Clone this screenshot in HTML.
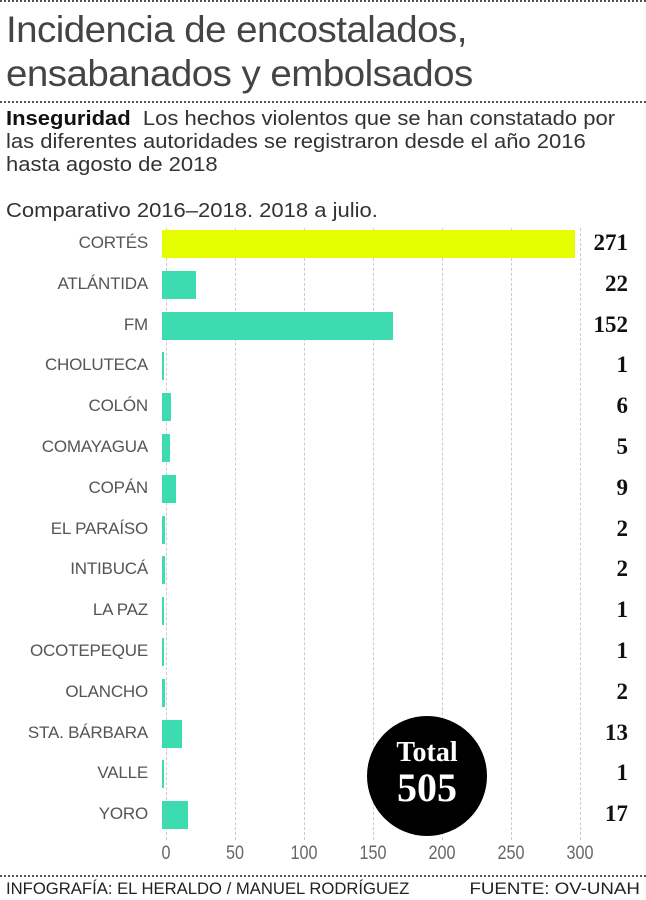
<!DOCTYPE html>
<html><head><meta charset="utf-8"><style>
body{margin:0;width:646px;height:900px;background:#fff;font-family:"Liberation Sans",sans-serif;position:relative;overflow:hidden;color:#222}
.a{position:absolute;white-space:nowrap}
.dot{position:absolute;left:0;width:646px;border-top:2px dotted #555}
.lab{position:absolute;right:498px;font-size:17px;color:#555;letter-spacing:-0.2px}
.val{position:absolute;right:18px;font-family:"Liberation Serif",serif;font-weight:bold;font-size:23px;color:#111}
.bar{position:absolute;left:162px;height:28px;background:#3ddbb0}
.grid{position:absolute;top:228px;height:612px;border-left:1px dashed #ccc}
.tk{position:absolute;top:843px;font-size:19px;color:#666;transform:translateX(-50%) scaleX(0.85)}
</style></head><body>
<div class="dot" style="top:0"></div>
<div class="a" style="left:6px;top:8px;font-size:37px;color:#444;letter-spacing:-0.5px;line-height:44px;font-weight:300;transform:scaleX(1.04);transform-origin:left">Incidencia de encostalados,<br>ensabanados y embolsados</div>
<div class="dot" style="top:101px"></div>
<div class="a" style="left:6px;top:108px;font-size:20px;line-height:23px;color:#333;transform:scaleX(1.1);transform-origin:left"><b style="color:#111">Inseguridad</b>&nbsp; Los hechos violentos que se han constatado por<br>las diferentes autoridades se registraron desde el año 2016<br>hasta agosto de 2018</div>
<div class="a" style="left:6px;top:200px;font-size:20px;color:#333;transform:scaleX(1.1);transform-origin:left">Comparativo 2016–2018. 2018 a julio.</div>
<div class="grid" style="left:166px"></div><div class="grid" style="left:235px"></div><div class="grid" style="left:304px"></div><div class="grid" style="left:373px"></div><div class="grid" style="left:442px"></div><div class="grid" style="left:511px"></div><div class="grid" style="left:580px"></div>
<div id="rows"></div>
<script>
var d=[["CORTÉS",271],["ATLÁNTIDA",22],["FM",152],["CHOLUTECA",1],["COLÓN",6],["COMAYAGUA",5],["COPÁN",9],["EL PARAÍSO",2],["INTIBUCÁ",2],["LA PAZ",1],["OCOTEPEQUE",1],["OLANCHO",2],["STA. BÁRBARA",13],["VALLE",1],["YORO",17]];
var h="";d.forEach(function(r,i){var c=244+i*40.8;
h+='<div class="lab" style="top:'+(c-11)+'px">'+r[0]+'</div>';
h+='<div class="bar" style="top:'+(c-14)+'px;width:'+Math.max(2,r[1]*1.523)+'px;'+(i==0?'background:#e6ff00':'')+'"></div>';
h+='<div class="val" style="top:'+(c-14)+'px">'+r[1]+'</div>';});
document.getElementById("rows").innerHTML=h;
</script>
<div class="tk" style="left:166px">0</div><div class="tk" style="left:235px">50</div><div class="tk" style="left:304px">100</div><div class="tk" style="left:373px">150</div><div class="tk" style="left:442px">200</div><div class="tk" style="left:511px">250</div><div class="tk" style="left:580px">300</div>
<div class="a" style="left:367px;top:716px;width:120px;height:120px;border-radius:50%;background:#000;color:#fff;font-family:'Liberation Serif',serif;font-weight:bold;text-align:center">
<div style="font-size:28px;margin-top:22px;line-height:30px">Total</div><div style="font-size:40px;line-height:40px">505</div></div>
<div class="dot" style="top:875px"></div>
<div class="a" style="left:6px;top:879px;font-size:17px;color:#222;transform:scaleX(0.98);transform-origin:left">INFOGRAFÍA: EL HERALDO / MANUEL RODRÍGUEZ</div>
<div class="a" style="right:6px;top:879px;font-size:17px;color:#222;transform:scaleX(1.1);transform-origin:right">FUENTE: OV-UNAH</div>
</body></html>
